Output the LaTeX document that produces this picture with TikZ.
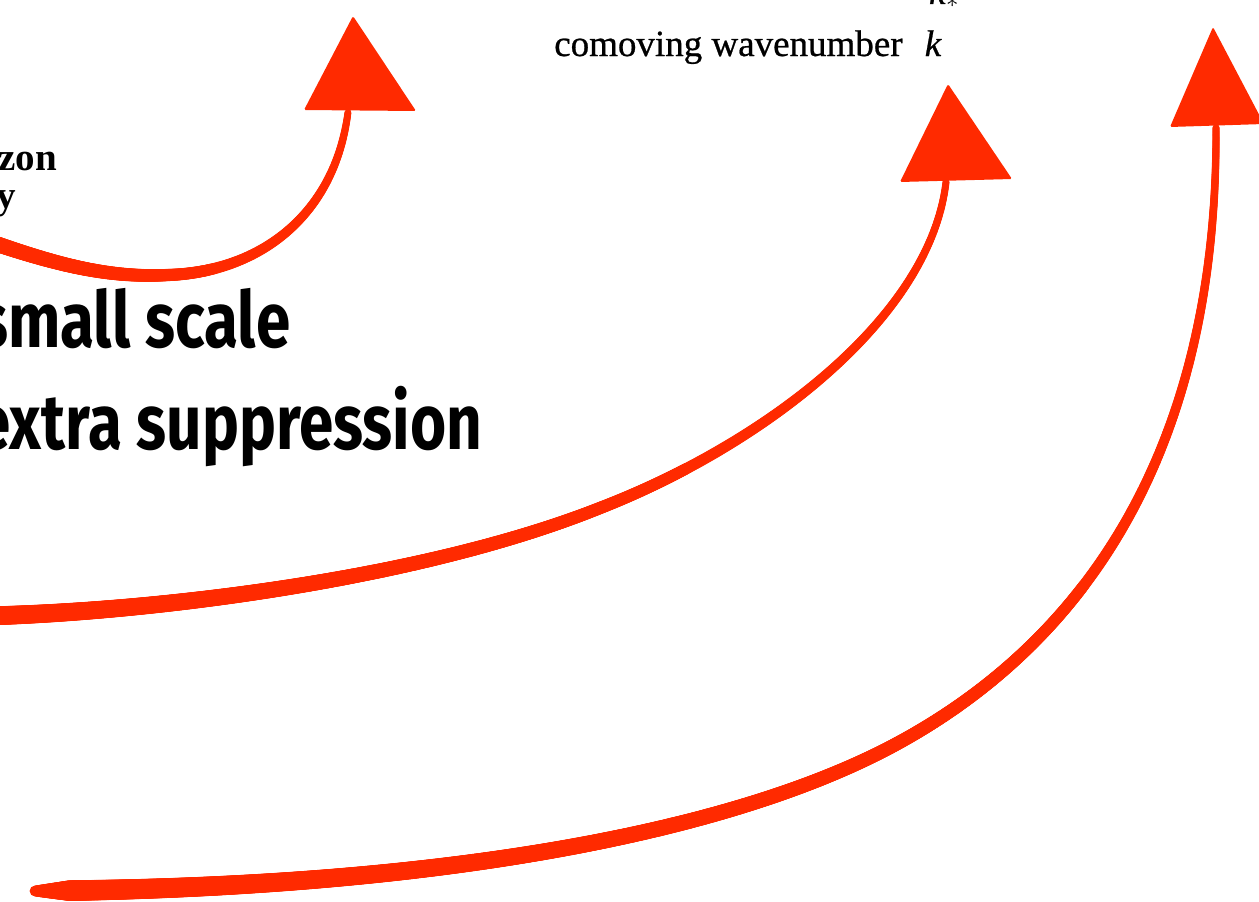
\documentclass[tikz,border=0pt]{standalone}
\usepackage{fontspec}
\setmainfont{Liberation Serif}
\newfontfamily\axisfont{Liberation Serif}[FakeBold=0.7]
\newfontfamily\bigsans{Fira Sans}[FakeStretch=0.795]
\usetikzlibrary{decorations.markings}
\definecolor{brushred}{RGB}{255,42,0}
\tikzset{
  brush/.style n args={3}{postaction={decorate,decoration={markings,
    mark=between positions 0 and 1 step 1pt with {%
      \pgfmathsetmacro\dd{\pgfkeysvalueof{/pgf/decoration/mark info/sequence number}}%
      \pgfmathsetmacro\ff{\dd/\pgfdecoratedpathlength}%
      \pgfmathsetmacro\rr{0.5*(#1-(#1-#2)*\ff)*min(1,#3+\dd/70)}%
      \fill[brushred] (0,0) circle[radius=\rr pt];}}}},
  headtri/.style={fill=brushred, rounded corners=1.5pt},
  biglabel/.style={anchor=base west, font=\bigsans\bfseries\fontsize{78}{80}\selectfont, inner sep=0pt},
  serlabel/.style={anchor=base east, font=\bfseries\fontsize{39}{42}\selectfont, inner sep=0pt},
  axislabel/.style={anchor=base, font=\axisfont\fontsize{37}{40}\selectfont, inner sep=0pt}
}
\begin{document}
\begin{tikzpicture}[x=1pt,y=-1pt]
\useasboundingbox (0,0) rectangle (1259,902);
\clip (0,0) rectangle (1259,902);
\fill[white] (0,0) rectangle (1259,902);

% texts
\node[axislabel] (kstar) at (944,4) {\textit{k}$_{\ast}$};
\node[axislabel] (axis) at (748,56) {comoving wavenumber\hspace{0.6em}\textit{k}};
\node[serlabel] (zon) at (57,170) {zon};
\node[serlabel] (yy) at (16,208) {y};
\node[biglabel] (small) at (-22,347) {small scale};
\node[biglabel] (extra) at (-24,449) {extra suppression};

% arrow 1
\coordinate (s1) at (-15,240);
\coordinate (m1) at (168,275);
\coordinate (e1) at (348,112);
\coordinate (tip1) at (353,16);
\coordinate (bl1) at (304,110);
\coordinate (br1) at (416,111);
\path[brush={16}{7}{1}] (s1) .. controls (60,266) and (110,278) .. (m1)
   .. controls (260,272) and (335,215) .. (e1);
\fill[headtri] (tip1) -- (bl1) -- (br1) -- cycle;

% arrow 2
\coordinate (s2) at (-15,616);
\coordinate (m2) at (600,508);
\coordinate (e2) at (946,182);
\coordinate (tip2) at (948,84);
\coordinate (bl2) at (900,182);
\coordinate (br2) at (1012,179);
\path[brush={19}{7}{1}] (s2) .. controls (150,612) and (420,580) .. (m2)
   .. controls (760,446) and (930,320) .. (e2);
\fill[headtri] (tip2) -- (bl2) -- (br2) -- cycle;

% arrow 3
\coordinate (s3) at (35,891);
\coordinate (m3) at (900,742);
\coordinate (e3) at (1216,127);
\coordinate (tip3) at (1213,27);
\coordinate (bl3) at (1170,127);
\coordinate (br3) at (1264,124);
\path[brush={21}{7}{0.5}] (s3) .. controls (450,888) and (740,830) .. (m3)
   .. controls (1060,654) and (1218,480) .. (e3);
\fill[headtri] (tip3) -- (bl3) -- (br3) -- cycle;
\end{tikzpicture}
\end{document}
